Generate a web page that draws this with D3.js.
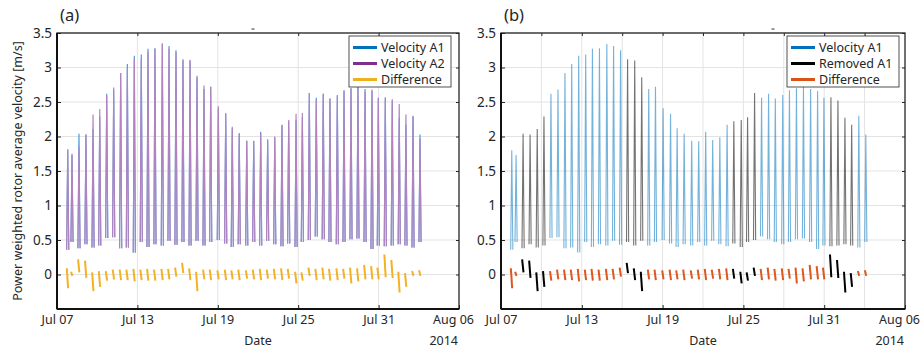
<!DOCTYPE html>
<html>
<head>
<meta charset="utf-8">
<script src="https://cdn.jsdelivr.net/npm/d3@7"></script>
<style>
  body { margin: 0; background: #fff; }
  text { font-family: "Noto Sans", sans-serif; fill: #262626; }
</style>
</head>
<body>
<div class="chart"></div>
<script>
var svgWidth = 921;
var svgHeight = 352;

// ---- data ----
var startDate = new Date(2014, 6, 7);
var endDate = new Date(2014, 7, 6);

// centre of each tidal spike, in days after Jul 07 00:00
var spikeDays = [0.80, 1.12, 1.64, 2.16, 2.69, 3.19, 3.71, 4.23, 4.75, 5.25,
  5.77, 6.29, 6.79, 7.31, 7.86, 8.36, 8.88, 9.40, 9.93, 10.45,
  10.97, 11.47, 12.04, 12.59, 13.08, 13.60, 14.16, 14.68, 15.20, 15.72,
  16.25, 16.79, 17.29, 17.84, 18.31, 18.83, 19.35, 19.87, 20.37, 20.92,
  21.42, 21.94, 22.46, 22.99, 23.51, 23.98, 24.50, 25.02, 25.54, 26.04,
  26.57, 27.09];

var peakA1 = [1.80, 1.73, 2.04, 2.03, 2.11, 2.29, 2.62, 2.68, 2.92, 3.05,
  3.17, 3.19, 3.27, 3.28, 3.34, 3.31, 3.25, 3.12, 3.10, 2.86,
  2.69, 2.72, 2.41, 2.33, 2.12, 2.04, 1.94, 1.93, 2.07, 1.95,
  1.99, 2.17, 2.22, 2.24, 2.28, 2.63, 2.56, 2.62, 2.55, 2.60,
  2.67, 2.70, 2.72, 2.69, 2.66, 2.56, 2.57, 2.52, 2.27, 2.17,
  2.30, 2.03];

var peakA2 = [1.82, 1.75, 1.85, 2.03, 2.32, 2.40, 2.59, 2.71, 2.92, 3.00,
  3.13, 3.13, 3.23, 3.27, 3.35, 3.27, 3.22, 3.10, 3.11, 2.88,
  2.74, 2.72, 2.44, 2.34, 2.14, 2.05, 1.94, 1.94, 2.05, 1.96,
  2.00, 2.16, 2.24, 2.33, 2.34, 2.63, 2.54, 2.62, 2.55, 2.59,
  2.66, 2.70, 2.71, 2.65, 2.68, 2.55, 2.55, 2.54, 2.47, 2.32,
  2.29, 1.97];

var lowVel = [0.36, 0.47, 0.38, 0.44, 0.39, 0.42, 0.53, 0.54, 0.38, 0.39,
  0.32, 0.47, 0.40, 0.44, 0.42, 0.49, 0.43, 0.47, 0.42, 0.49,
  0.42, 0.47, 0.50, 0.45, 0.40, 0.44, 0.42, 0.47, 0.42, 0.49,
  0.44, 0.41, 0.45, 0.40, 0.47, 0.50, 0.55, 0.51, 0.47, 0.44,
  0.47, 0.51, 0.52, 0.47, 0.37, 0.42, 0.41, 0.42, 0.44, 0.42,
  0.39, 0.47];

var diffHi = [0.09, 0.04, 0.22, 0.20, 0.03, 0.05, 0.05, 0.07, 0.07, 0.07,
  0.08, 0.07, 0.08, 0.07, 0.08, 0.08, 0.10, 0.17, 0.09, 0.04,
  0.07, 0.07, 0.06, 0.07, 0.06, 0.07, 0.06, 0.07, 0.08, 0.07,
  0.08, 0.09, 0.08, 0.04, 0.03, 0.10, 0.08, 0.10, 0.08, 0.09,
  0.08, 0.10, 0.09, 0.14, 0.12, 0.10, 0.29, 0.21, 0.04, 0.02,
  0.05, 0.06];

var diffLo = [-0.20, -0.02, 0.03, -0.05, -0.24, -0.18, -0.09, -0.07, -0.08, -0.08,
  -0.10, -0.08, -0.09, -0.09, -0.08, -0.07, -0.03, 0.02, -0.08, -0.24,
  -0.07, -0.08, -0.07, -0.08, -0.07, -0.08, -0.06, -0.07, -0.08, -0.06,
  -0.07, -0.08, -0.06, -0.13, -0.09, -0.02, -0.08, -0.07, -0.09, -0.08,
  -0.06, -0.13, -0.10, -0.07, -0.07, -0.07, -0.04, -0.05, -0.26, -0.18,
  -0.02, -0.02];

// spikes flagged as removed in panel (b)
var removedA1 = [2, 3, 4, 5, 17, 18, 19, 32, 33, 34, 35, 46, 47, 48, 49];

var yTicks = [-0.5, 0, 0.5, 1, 1.5, 2, 2.5, 3, 3.5];
var yLabels = [0, 0.5, 1, 1.5, 2, 2.5, 3, 3.5];
var xLabelDates = ["2014-07-07", "2014-07-13", "2014-07-19", "2014-07-25", "2014-07-31", "2014-08-06"];
var xGridA = ["2014-07-13", "2014-07-19", "2014-07-25", "2014-07-31"];
var xGridB = ["2014-07-10", "2014-07-13", "2014-07-16", "2014-07-19", "2014-07-22", "2014-07-25",
  "2014-07-28", "2014-07-31", "2014-08-03"];

var parseDay = d3.timeParse("%Y-%m-%d");
var fmt = d3.timeFormat("%b %d");

var spikes = spikeDays.map(function (d, i) {
    return {
        i: i,
        t: +startDate + d * 864e5,
        a1: peakA1[i],
        a2: peakA2[i],
        low: lowVel[i],
        hi: diffHi[i],
        lo: diffLo[i],
        removed: removedA1.indexOf(i) >= 0
    };
});

var margin = { top: 33, bottom: 43 };
var halfWidth = 0.08 * 864e5;   // visual half width of one spike

var svg = d3.select(".chart")
    .append("svg")
    .attr("width", svgWidth)
    .attr("height", svgHeight);

function drawPanel(cfg) {
    var g = svg.append("g");
    var plotBottom = svgHeight - margin.bottom;

    var x = d3.scaleTime()
        .domain([startDate, endDate])
        .range([cfg.left, cfg.right]);
    var y = d3.scaleLinear()
        .domain([-0.5, 3.5])
        .range([plotBottom, margin.top]);

    // grid
    g.selectAll(".hgrid").data(yTicks).enter().append("line")
        .attr("x1", cfg.left).attr("x2", cfg.right)
        .attr("y1", d => y(d)).attr("y2", d => y(d))
        .attr("stroke", "#e3e3e3").attr("stroke-width", 1);
    g.selectAll(".vgrid").data(cfg.grid.map(parseDay)).enter().append("line")
        .attr("x1", d => x(d)).attr("x2", d => x(d))
        .attr("y1", margin.top).attr("y2", plotBottom)
        .attr("stroke", "#e3e3e3").attr("stroke-width", 1);

    var line = d3.line().x(d => x(d[0])).y(d => y(d[1]));

    function spikePath(key) {
        return function (d) {
            return line([[d.t - halfWidth, d.low], [d.t, d[key]], [d.t + halfWidth, d.low]]);
        };
    }

    cfg.series.forEach(function (s) {
        g.selectAll(null).data(spikes.filter(s.filter)).enter().append("path")
            .attr("d", spikePath(s.key))
            .attr("fill", "none")
            .attr("stroke", s.color)
            .attr("stroke-opacity", s.opacity)
            .attr("stroke-width", 1.1);
    });

    cfg.diffs.forEach(function (s) {
        g.selectAll(null).data(spikes.filter(s.filter)).enter().append("path")
            .attr("d", d => line([[d.t - 0.07 * 864e5, d.hi], [d.t + 0.03 * 864e5, d.lo]]))
            .attr("fill", "none")
            .attr("stroke", s.color)
            .attr("stroke-width", 2);
    });

    // axes
    var bottomAxis = d3.axisBottom(x)
        .tickValues(xLabelDates.map(parseDay))
        .tickFormat(fmt)
        .tickSizeInner(-4).tickSizeOuter(0).tickPadding(6);
    var leftAxis = d3.axisLeft(y)
        .tickValues(yLabels)
        .tickFormat(d3.format(""))
        .tickSizeInner(-4).tickSizeOuter(0).tickPadding(5);
    var topAxis = d3.axisTop(x)
        .tickValues(cfg.grid.map(parseDay))
        .tickFormat("").tickSizeInner(-3).tickSizeOuter(0);
    var rightAxis = d3.axisRight(y)
        .tickValues(yLabels)
        .tickFormat("").tickSizeInner(-3).tickSizeOuter(0);

    var gx = g.append("g")
        .attr("transform", `translate(0, ${plotBottom})`)
        .call(bottomAxis);
    var gy = g.append("g")
        .attr("transform", `translate(${cfg.left}, 0)`)
        .call(leftAxis);
    var gt = g.append("g")
        .attr("transform", `translate(0, ${margin.top})`)
        .call(topAxis);
    var gr = g.append("g")
        .attr("transform", `translate(${cfg.right}, 0)`)
        .call(rightAxis);
    [gx, gy, gt, gr].forEach(function (a) {
        a.select(".domain").remove();
        a.selectAll("line").attr("stroke", "#262626");
        a.selectAll("text").attr("fill", "#262626");
    });
    gx.selectAll("text").style("font-size", "12.5px");
    // the last date label sits a little left of its tick, as in the original
    gx.selectAll(".tick:last-of-type text").attr("dx", -6);
    gy.selectAll("text").style("font-size", "13.5px");

    // box
    g.append("rect")
        .attr("x", cfg.left).attr("y", margin.top)
        .attr("width", cfg.right - cfg.left).attr("height", plotBottom - margin.top)
        .attr("fill", "none").attr("stroke", "#262626").attr("stroke-width", 1.3);
    g.append("line")
        .attr("x1", cfg.left).attr("x2", cfg.right)
        .attr("y1", plotBottom).attr("y2", plotBottom)
        .attr("stroke", "#111").attr("stroke-width", 2);
    g.append("line")
        .attr("x1", cfg.left).attr("x2", cfg.left)
        .attr("y1", margin.top).attr("y2", plotBottom)
        .attr("stroke", "#111").attr("stroke-width", 2);

    // stray mark above the box
    g.append("line")
        .attr("x1", cfg.mark - 1.5).attr("x2", cfg.mark + 1.5)
        .attr("y1", 29).attr("y2", 29)
        .attr("stroke", "#555").attr("stroke-width", 1.2);

    // legend
    var lg = g.append("g").attr("transform", `translate(${cfg.right - cfg.legendOffset}, 36)`);
    lg.append("rect")
        .attr("width", cfg.legendWidth).attr("height", 51)
        .attr("fill", "#fff").attr("stroke", "#262626").attr("stroke-width", 0.8);
    cfg.legend.forEach(function (item, k) {
        lg.append("line")
            .attr("x1", 4).attr("x2", 28)
            .attr("y1", 11.5 + k * 16).attr("y2", 11.5 + k * 16)
            .attr("stroke", item.color).attr("stroke-width", 3);
        lg.append("text")
            .attr("x", 32).attr("y", 11.5 + k * 16).attr("dy", "0.35em")
            .style("font-size", "12.5px")
            .text(item.label);
    });

    // labels
    g.append("text")
        .attr("x", cfg.left + 3).attr("y", 21)
        .style("font-size", "16.5px")
        .text(cfg.tag);
    g.append("text")
        .attr("x", (cfg.left + cfg.right) / 2).attr("y", 345)
        .attr("text-anchor", "middle")
        .style("font-size", "12.5px")
        .text("Date");
    g.append("text")
        .attr("x", cfg.right - 1).attr("y", 345)
        .attr("text-anchor", "end")
        .style("font-size", "12.5px")
        .text("2014");
}

drawPanel({
    tag: "(a)",
    left: 57,
    right: 459,
    mark: 253,
    grid: xGridA,
    series: [
        { key: "a1", color: "#3f95d6", opacity: 1, filter: d => true },
        { key: "a2", color: "#c39bcd", opacity: 1, filter: d => true },
        { key: "a2", color: "#7E2F8E", opacity: 0.22, filter: d => true }
    ],
    diffs: [
        { color: "#F4B223", filter: d => true }
    ],
    legendOffset: 110,
    legendWidth: 102,
    legend: [
        { label: "Velocity A1", color: "#0072BD" },
        { label: "Velocity A2", color: "#7E2F8E" },
        { label: "Difference", color: "#EDB120" }
    ]
});

drawPanel({
    tag: "(b)",
    left: 501,
    right: 905,
    mark: 773,
    grid: xGridB,
    series: [
        { key: "a1", color: "#0072BD", opacity: 0.55, filter: d => !d.removed },
        { key: "a1", color: "#000000", opacity: 0.55, filter: d => d.removed }
    ],
    diffs: [
        { color: "#E0571C", filter: d => !d.removed },
        { color: "#000000", filter: d => d.removed }
    ],
    legendOffset: 118,
    legendWidth: 112,
    legend: [
        { label: "Velocity A1", color: "#0072BD" },
        { label: "Removed A1", color: "#000000" },
        { label: "Difference", color: "#D95319" }
    ]
});

// y axis title
svg.append("text")
    .attr("transform", "translate(18, 171) rotate(-90)")
    .attr("text-anchor", "middle")
    .attr("dy", "0.35em")
    .style("font-size", "12.5px")
    .text("Power weighted rotor average velocity [m/s]");
</script>
</body>
</html>
